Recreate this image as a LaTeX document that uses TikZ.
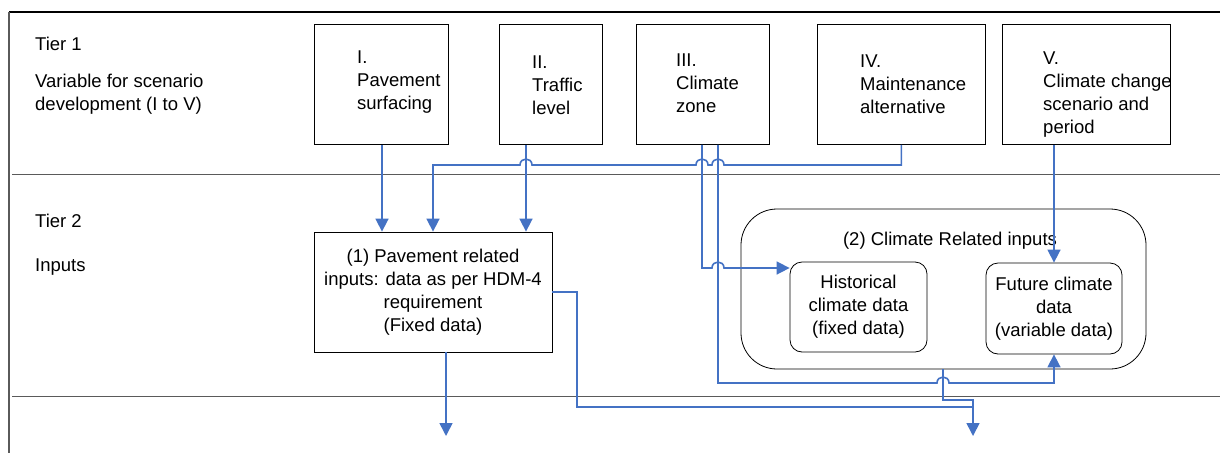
\documentclass[tikz,border=0pt]{standalone}
\usepackage{fontspec}
\setmainfont{Liberation Sans}
\usetikzlibrary{arrows.meta,positioning}
\definecolor{flow_blue}{RGB}{68,114,196}
\definecolor{rule_gray}{RGB}{90,90,90}

% small bridge where a line passes over another one
\newcommand{\hopR}[2]{-- (#1-6,#2) .. controls (#1-6,#2-8) and (#1+6,#2-8) .. (#1+6,#2)}
\newcommand{\hopL}[2]{-- (#1+6,#2) .. controls (#1+6,#2-8) and (#1-6,#2-8) .. (#1-6,#2)}

\begin{document}
\begin{tikzpicture}[
      x=1pt, y=-1pt,
      every node/.style={font=\fontsize{18.5}{23}\selectfont},
      varbox/.style={
         draw=black,
         line width=0.8pt,
         anchor=north west,
         inner sep=0pt,
         minimum height=120pt},
      lbl/.style={
         anchor=north west,
         inner sep=0pt,
         align=left},
      inbox/.style={
         draw=black,
         line width=0.8pt,
         inner sep=0pt,
         align=center},
      flow/.style={
         -{Triangle[length=13pt,width=13pt]},
         line width=1.6pt,
         draw=flow_blue},
      flowline/.style={
         line width=1.6pt,
         draw=flow_blue},
      rule/.style={
         draw=rule_gray,
         line width=1pt},
      ]
      \useasboundingbox (0,0) rectangle (1220,453);

      % frame and tiers
      \draw[line width=2pt] (9,12) -- (1220,12);
      \draw[rule, line width=1.2pt] (9,12) -- (9,453);
      \draw[rule] (12,174) -- (1220,174);
      \draw[rule] (12,396) -- (1220,396);

      \node[anchor=base west, inner sep=0pt] (tier1) at (35,50) {Tier 1};
      \node[lbl] (tier1txt) at (35,74) {Variable for scenario\\development (I to V)};
      \node[anchor=base west, inner sep=0pt] (tier2) at (35,227) {Tier 2};
      \node[anchor=base west, inner sep=0pt] (tier2txt) at (35,271) {Inputs};

      % tier 1 variables
      \node[varbox, minimum width=134pt] (sI) at (314,24) {};
      \node[varbox, minimum width=103pt] (sII) at (499,24) {};
      \node[varbox, minimum width=133pt] (sIII) at (636,24) {};
      \node[varbox, minimum width=168pt] (sIV) at (817,24) {};
      \node[varbox, minimum width=168pt] (sV) at (1002,24) {};

      \node[lbl] (lI) at (357,51) {I.\\Pavement\\surfacing};
      \node[lbl] (lII) at (532,56) {II.\\Traffic\\level};
      \node[lbl] (lIII) at (676,54) {III.\\Climate\\zone};
      \node[lbl] (lIV) at (860,55) {IV.\\Maintenance\\alternative};
      \node[lbl] (lV) at (1043,52) {V.\\Climate change\\scenario and\\period};

      % tier 2 inputs
      \node[inbox, minimum width=238pt, minimum height=120pt] (pav) at (433,292)
         {(1) Pavement related\\inputs: data as per HDM-4\\requirement\\(Fixed data)};
      \node[inbox, rounded corners=36pt, minimum width=405pt, minimum height=160pt] (clim) at (943.5,289) {};
      \node[anchor=base, inner sep=0pt] (climlbl) at (950,245) {(2) Climate Related inputs};
      \node[inbox, rounded corners=12pt, minimum width=137pt, minimum height=90pt] (hist) at (858.5,307)
         {Historical\\climate data\\(fixed data)};
      \node[inbox, rounded corners=12pt, minimum width=136pt, minimum height=91pt] (fut) at (1054,308.5)
         {Future climate\\data\\(variable data)};

      \coordinate (outA) at (446,436);
      \coordinate (outB) at (973,436);

      % tier 1 -> tier 2
      \draw[flow] (sI.south -| 382,0) -- (pav.north -| 382,0);
      \draw[flow] (sII.south -| 526,0) -- (pav.north -| 526,0);
      \draw[flow] (sIV.south) -- (sIV.south |- 0,165)
         \hopL{718}{165} \hopL{702}{165} \hopL{526}{165} -- (433,165) -- (pav.north -| 433,0);
      \draw[flow] (sIII.south -| 702,0) -- (702,268) \hopR{718}{268} -- (hist.west |- 0,268);
      \draw[flow] (sIII.south -| 718,0) -- (718,383) \hopR{943}{383} -- (fut.south |- 0,383) -- (fut.south);
      \draw[flow] (sV.south -| 1054,0) -- (fut.north);

      % tier 2 -> tier 3
      \draw[flow] (pav.south -| outA) -- (outA);
      \draw[flowline] (pav.east |- 0,292) -- (577,292) -- (577,407) -- (outB |- 0,407);
      \draw[flow] (clim.south -| 943,0) -- (943,400) -- (outB |- 0,400) -- (outB);
\end{tikzpicture}
\end{document}
